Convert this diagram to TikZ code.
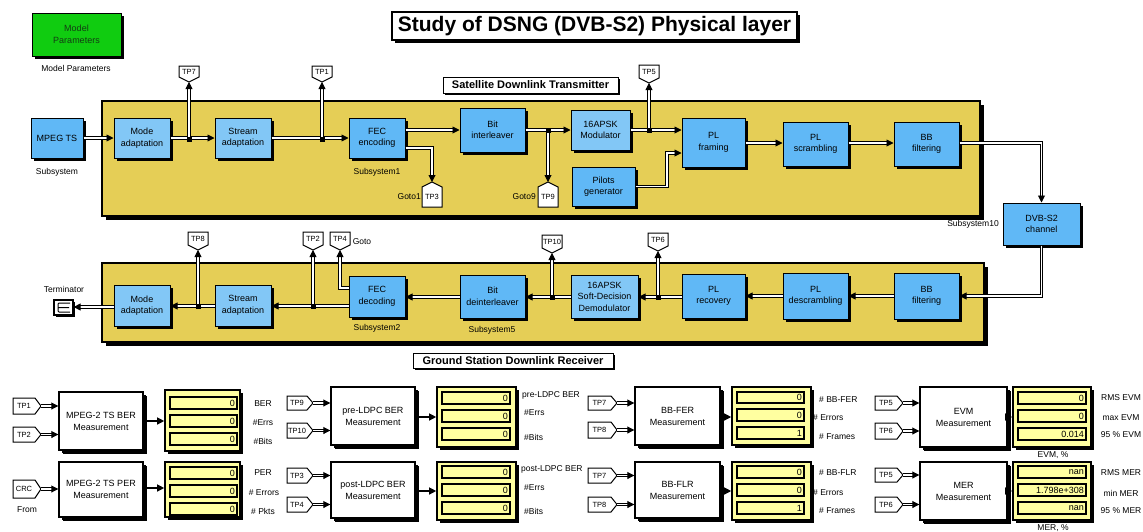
\documentclass[tikz,border=0pt]{standalone}
\usepackage{fontspec}
\setmainfont{Liberation Sans}
\usetikzlibrary{arrows.meta,shadows}
\definecolor{yel}{RGB}{229,206,86}
\definecolor{blu}{RGB}{96,184,246}
\definecolor{lblu}{RGB}{130,199,246}
\definecolor{grn}{RGB}{16,204,16}
\definecolor{dyel}{RGB}{255,255,160}
\definecolor{dgrn}{RGB}{20,60,20}
\newcommand\fs[2]{\fontsize{#1}{#2}\selectfont}
\newcommand\blk[7][bb]{\node[#1, minimum width={(#5-(#3))*1pt}, minimum height={(#6-(#4))*1pt}] (#2) at ({(#3+#5)/2},{(#4+#6)/2}) {#7};}
% Goto tag, point at bottom (input from below)
\newcommand\tagS[6]{%
 \draw[tagst] (#2,#3) -- (#4,#3) -- (#4,#5-5) -- ({(#2+#4)/2},#5) -- (#2,#5-5) -- cycle;
 \node[tagtx] (#1) at ({(#2+#4)/2},{(#3+#5-5)/2}) {#6};
 \coordinate (#1-in) at ({(#2+#4)/2},#5);}
% Goto tag, point at top (input from above)
\newcommand\tagN[6]{%
 \draw[tagst] (#2,#3+5) -- ({(#2+#4)/2},#3) -- (#4,#3+5) -- (#4,#5) -- (#2,#5) -- cycle;
 \node[tagtx] (#1) at ({(#2+#4)/2},{(#3+5+#5)/2}) {#6};
 \coordinate (#1-in) at ({(#2+#4)/2},#3);}
% From tag, point at right (output)
\newcommand\tagE[6]{%
 \draw[tagst] (#2,#3) -- (#4-6,#3) -- (#4,{(#3+#5)/2}) -- (#4-6,#5) -- (#2,#5) -- cycle;
 \node[tagtx] (#1) at ({(#2+#4-6)/2},{(#3+#5)/2}) {#6};
 \coordinate (#1-out) at (#4,{(#3+#5)/2});}
\newcommand\disp[5]{\node[dsp, minimum width={(#4-(#2))*1pt}, minimum height={(#5-(#3))*1pt}] (#1) at ({(#2+#4)/2},{(#3+#5)/2}) {};}
\newcommand\fld[6]{\node[fldst, minimum width={(#4-(#2))*1pt}, minimum height={(#5-(#3))*1pt}] (#1) at ({(#2+#4)/2},{(#3+#5)/2}) {};
 \node[anchor=east, inner sep=0pt, font=\fs{9}{10}] (#1v) at ([xshift=-2.5pt]#1.east) {#6};}
\tikzset{
 shd/.style={general shadow={fill=black, shadow xshift=#1, shadow yshift=-#1}},
 sub/.style={draw=black, line width=1.5pt, fill=yel, shd=4pt},
 bb/.style={draw=black, line width=1pt, fill=blu, align=center, inner sep=0pt, font=\fs{9}{11.5}, shd=3pt},
 lb/.style={bb, fill=lblu},
 mb/.style={bb, fill=white, line width=1.4pt, font=\fs{9}{12}, shd=4pt},
 dsp/.style={draw=black, line width=1.6pt, fill=dyel, inner sep=0pt, shd=3pt},
 fldst/.style={draw=black, line width=1.3pt, fill=dyel, inner sep=0pt},
 lbl/.style={draw=black, line width=1pt, fill=white, inner sep=0pt, font=\bfseries\fs{11}{13}, shd=2pt},
 ttl/.style={draw=black, line width=1.3pt, fill=white, inner sep=0pt, font=\bfseries\fs{21}{24}, shd=3pt},
 tagst/.style={draw=black, line width=1pt, fill=white},
 tagtx/.style={inner sep=0pt, font=\fs{7.5}{8}},
 txt/.style={inner sep=0pt, font=\fs{8.5}{10}},
 bus/.style={draw=black, line width=0.9pt, double=white, double distance=1.8pt, -{Triangle[length=7pt,width=7pt]}},
 sig/.style={draw=black, line width=1.2pt, -{Triangle[length=7pt,width=7pt]}},
 jn/.style={fill=black, inner sep=0pt, minimum size=5pt},
}
\begin{document}
\begin{tikzpicture}[x=1pt,y=-1pt]
\useasboundingbox (0,0) rectangle (1143,531);
\fill[white] (0,0) rectangle (1143,531);

% title and model parameters
\blk[ttl]{title}{392}{12}{797}{40}{Study of DSNG (DVB-S2) Physical layer}
\blk[bb, fill=grn, text=dgrn]{mparam}{32}{13}{121}{56}{Model\\Parameters}
\node[txt] (mparamL) at (76,68) {Model Parameters};

% subsystem boxes
\blk[sub]{tx}{102}{101}{980}{216}{}
\blk[sub]{rx}{102}{263}{984}{342}{}
\blk[lbl]{txL}{443}{77}{618}{93}{Satellite Downlink Transmitter}
\blk[lbl]{rxL}{413}{353}{613}{368}{Ground Station Downlink Receiver}

% transmitter blocks
\blk[bb]{mpeg}{31}{118}{83}{158}{MPEG TS}
\blk[lb]{modeT}{114}{118}{170}{158}{Mode\\adaptation}
\blk[lb]{streamT}{215}{118}{271}{158}{Stream\\adaptation}
\blk[bb]{fecT}{349}{118}{405}{158}{FEC\\encoding}
\blk[bb]{bitT}{460}{108}{525}{152}{Bit\\interleaver}
\blk[lb]{modT}{571}{110}{630}{150}{16APSK\\Modulator}
\blk[bb]{pilots}{572}{167}{635}{206}{Pilots\\generator}
\blk[bb]{plf}{682}{118}{745}{167}{PL\\framing}
\blk[bb]{plsc}{783}{122}{848}{166}{PL\\scrambling}
\blk[bb]{bbfT}{894}{122}{959}{166}{BB\\filtering}
\blk[bb]{chan}{1003}{203}{1080}{245}{DVB-S2\\channel}

\node[txt] (mpegL) at (57,172) {Subsystem};
\node[txt] (fecTL) at (377,172) {Subsystem1};
\node[txt] (chanL) at (973,224) {Subsystem10};
\node[txt, anchor=east] (g1L) at (421,197) {Goto1};
\node[txt, anchor=east] (g9L) at (536,197) {Goto9};

% transmitter tags
\tagS{tp7}{179}{66}{199}{82}{TP7}
\tagS{tp1}{312}{66}{332}{82}{TP1}
\tagS{tp5}{639}{65}{659}{83}{TP5}
\tagN{tp3}{422}{182}{442}{207}{TP3}
\tagN{tp9}{538}{182}{558}{207}{TP9}

\coordinate (j1) at (189,139);
\coordinate (j2) at (322,139);
\coordinate (j3) at (548,130);
\coordinate (j4) at (649,130);

\draw[bus] (mpeg.east) -- (modeT.west);
\draw[bus] (modeT.east) -- (streamT.west);
\draw[bus] (j1) -- (tp7-in);
\draw[bus] (streamT.east) -- (fecT.west);
\draw[bus] (j2) -- (tp1-in);
\draw[bus] (fecT.east |- bitT.west) -- (bitT.west);
\draw[bus] (fecT.east |- 0,148) -| (tp3-in);
\draw[bus] (bitT.east) -- (modT.west);
\draw[bus] (j3) -- (tp9-in);
\draw[bus] (modT.east) -- (plf.west |- modT.east);
\draw[bus] (j4) -- (tp5-in);
\draw[bus] (pilots.east) -| (667,153) -- (plf.west |- 0,153);
\draw[bus] (plf.east |- 0,143) -- (plsc.west |- 0,143);
\draw[bus] (plsc.east |- 0,143) -- (bbfT.west |- 0,143);
\draw[bus] (bbfT.east |- 0,143) -| (chan.north);

% receiver blocks
\blk[bb]{bbfR}{894}{273}{959}{319}{BB\\filtering}
\blk[bb]{pldR}{783}{273}{848}{319}{PL\\descrambling}
\blk[bb]{plrR}{682}{274}{745}{318}{PL\\recovery}
\blk[lb]{demR}{571}{275}{638}{318}{16APSK\\Soft-Decision\\Demodulator}
\blk[bb]{bdiR}{460}{275}{525}{318}{Bit\\deinterleaver}
\blk[bb]{fecR}{349}{276}{405}{317}{FEC\\decoding}
\blk[lb]{streamR}{215}{285}{271}{326}{Stream\\adaptation}
\blk[lb]{modeR}{114}{285}{170}{326}{Mode\\adaptation}
\node[draw=black, line width=1.2pt, fill=white, minimum width=19pt, minimum height=15pt, inner sep=0pt, shd=1.5pt] (term) at (63.5,307.5) {};
\draw[line width=1pt, rounded corners=1pt] (70,303) -- (58,303) -- (58,312) -- (70,312) (58,307.5) -- (69,307.5);

\node[txt] (termL) at (64,289) {Terminator};
\node[txt] (fecRL) at (377,328) {Subsystem2};
\node[txt] (bdiRL) at (492,330) {Subsystem5};
\node[txt] (gotoL) at (362,242) {Goto};

\tagS{tp8}{188}{232}{208}{250}{TP8}
\tagS{tp2}{303}{232}{323}{250}{TP2}
\tagS{tp4}{330}{232}{350}{250}{TP4}
\tagS{tp10}{542}{235}{562}{253}{TP10}
\tagS{tp6}{648}{233}{668}{251}{TP6}

\coordinate (j5) at (552,297);
\coordinate (j6) at (658,297);
\coordinate (j7) at (313,306);
\coordinate (j8) at (198,306);

\draw[bus] (chan.south) |- (bbfR.east |- 0,296);
\draw[bus] (bbfR.west |- 0,296) -- (pldR.east |- 0,296);
\draw[bus] (pldR.west |- 0,296) -- (plrR.east |- 0,296);
\draw[bus] (plrR.west |- 0,297) -- (demR.east |- 0,297);
\draw[bus] (j6) -- (tp6-in);
\draw[bus] (demR.west |- 0,297) -- (bdiR.east |- 0,297);
\draw[bus] (j5) -- (tp10-in);
\draw[bus] (bdiR.west |- 0,297) -- (fecR.east |- 0,297);
\draw[bus] (fecR.west |- 0,306) -- (streamR.east |- 0,306);
\draw[bus] (j7) -- (tp2-in);
\draw[bus] (fecR.west |- 0,288) -| (tp4-in);
\draw[bus] (streamR.west |- 0,306) -- (modeR.east |- 0,306);
\draw[bus] (j8) -- (tp8-in);
\draw[bus] (modeR.west |- 0,307) -- (term.east |- 0,307);

\foreach \j in {j1,j2,j3,j4,j5,j6,j7,j8} {\node[jn] (\j s) at (\j) {};}

% ---------- measurement section ----------
% group 1
\tagE{f1}{13}{398}{41}{414}{TP1}
\tagE{f2}{13}{427}{41}{442}{TP2}
\tagE{f3}{13}{480}{41}{498}{CRC}
\node[txt] (fromL) at (27,510) {From};
\blk[mb]{m1}{59}{392}{143}{450}{MPEG-2 TS BER\\Measurement}
\blk[mb]{m2}{59}{462}{143}{517}{MPEG-2 TS PER\\Measurement}
\disp{d1}{165}{390}{240}{451}
\fld{d1a}{170}{397}{237}{409}{0}
\fld{d1b}{170}{415}{237}{427}{0}
\fld{d1c}{170}{433}{237}{445}{0}
\disp{d2}{165}{462}{240}{517}
\fld{d2a}{170}{467}{237}{479}{0}
\fld{d2b}{170}{485}{237}{497}{0}
\fld{d2c}{170}{503}{237}{515}{0}
\node[txt] (l1a) at (263,404) {BER};
\node[txt] (l1b) at (263,423) {\#Errs};
\node[txt] (l1c) at (263,441) {\#Bits};
\node[txt] (l2a) at (263,473) {PER};
\node[txt] (l2b) at (264,493) {\# Errors};
\node[txt] (l2c) at (263,511) {\# Pkts};
\draw[bus] (f1-out) -- (m1.west |- f1-out);
\draw[bus] (f2-out) -- (m1.west |- f2-out);
\draw[bus] (f3-out) -- (m2.west |- f3-out);
\draw[sig] (m1.east) -- (d1.west |- m1.east);
\draw[sig] (m2.east |- 0,488) -- (d2.west |- 0,488);

% group 2
\tagE{f4}{287}{396}{313}{410}{TP9}
\tagE{f5}{287}{423}{313}{438}{TP10}
\tagE{f6}{287}{468}{313}{483}{TP3}
\tagE{f7}{287}{497}{313}{512}{TP4}
\blk[mb]{m3}{331}{387}{415}{445}{pre-LDPC BER\\Measurement}
\blk[mb]{m4}{331}{462}{415}{518}{post-LDPC BER\\Measurement}
\disp{d3}{437}{387}{516}{447}
\fld{d3a}{442}{392}{510}{404}{0}
\fld{d3b}{442}{410}{510}{422}{0}
\fld{d3c}{442}{428}{510}{440}{0}
\disp{d4}{437}{462}{516}{520}
\fld{d4a}{442}{466}{510}{478}{0}
\fld{d4b}{442}{484}{510}{496}{0}
\fld{d4c}{442}{502}{510}{514}{0}
\node[txt, anchor=west] (l3a) at (522,395) {pre-LDPC BER};
\node[txt, anchor=west] (l3b) at (524,413) {\#Errs};
\node[txt, anchor=west] (l3c) at (524,437) {\#Bits};
\node[txt, anchor=west] (l4a) at (521,469) {post-LDPC BER};
\node[txt, anchor=west] (l4b) at (524,488) {\#Errs};
\node[txt, anchor=west] (l4c) at (524,511) {\#Bits};
\draw[bus] (f4-out) -- (m3.west |- f4-out);
\draw[bus] (f5-out) -- (m3.west |- f5-out);
\draw[bus] (f6-out) -- (m4.west |- f6-out);
\draw[bus] (f7-out) -- (m4.west |- f7-out);
\draw[sig] (m3.east |- 0,417) -- (d3.west |- 0,417);
\draw[sig] (m4.east |- 0,491) -- (d4.west |- 0,491);

% group 3
\tagE{f8}{588}{396}{617}{410}{TP7}
\tagE{f9}{588}{422}{617}{438}{TP8}
\tagE{f10}{588}{468}{617}{483}{TP7}
\tagE{f11}{588}{497}{617}{512}{TP8}
\blk[mb]{m5}{635}{387}{720}{445}{BB-FER\\Measurement}
\blk[mb]{m6}{635}{462}{720}{518}{BB-FLR\\Measurement}
\disp{d5}{732}{387}{811}{445}
\fld{d5a}{737}{392}{804}{403}{0}
\fld{d5b}{737}{409}{804}{421}{0}
\fld{d5c}{737}{427}{804}{439}{1}
\disp{d6}{732}{462}{811}{520}
\fld{d6a}{737}{466}{804}{478}{0}
\fld{d6b}{737}{484}{804}{496}{0}
\fld{d6c}{737}{502}{804}{514}{1}
\node[txt, anchor=west] (l5a) at (819,400) {\# BB-FER};
\node[txt, anchor=west] (l5b) at (813,418) {\# Errors};
\node[txt, anchor=west] (l5c) at (819,437) {\# Frames};
\node[txt, anchor=west] (l6a) at (819,473) {\# BB-FLR};
\node[txt, anchor=west] (l6b) at (813,493) {\# Errors};
\node[txt, anchor=west] (l6c) at (819,511) {\# Frames};
\draw[bus] (f8-out) -- (m5.west |- f8-out);
\draw[bus] (f9-out) -- (m5.west |- f9-out);
\draw[bus] (f10-out) -- (m6.west |- f10-out);
\draw[bus] (f11-out) -- (m6.west |- f11-out);
\draw[sig] (m5.east |- 0,417) -- (d5.west |- 0,417);
\draw[sig] (m6.east |- 0,491) -- (d6.west |- 0,491);

% group 4
\tagE{f12}{875}{396}{903}{410}{TP5}
\tagE{f13}{875}{423}{903}{439}{TP6}
\tagE{f14}{875}{468}{903}{482}{TP5}
\tagE{f15}{875}{497}{903}{512}{TP6}
\blk[mb]{m7}{920}{387}{1007}{447}{EVM\\Measurement}
\blk[mb]{m8}{920}{462}{1007}{520}{MER\\Measurement}
\disp{d7}{1013}{387}{1091}{447}
\fld{d7a}{1018}{392}{1086}{404}{0}
\fld{d7b}{1018}{410}{1086}{422}{0}
\fld{d7c}{1018}{428}{1086}{440}{0.014}
\disp{d8}{1013}{462}{1091}{520}
\fld{d8a}{1018}{466}{1086}{478}{nan}
\fld{d8b}{1018}{484}{1086}{496}{1.798e+308}
\fld{d8c}{1018}{502}{1086}{514}{nan}
\node[txt] (l7a) at (1121,398) {RMS EVM};
\node[txt] (l7b) at (1121,418) {max EVM};
\node[txt] (l7c) at (1121,435) {95 \% EVM};
\node[txt] (l8a) at (1121,473) {RMS MER};
\node[txt] (l8b) at (1121,493) {min MER};
\node[txt] (l8c) at (1121,511) {95 \% MER};
\node[txt] (evmL) at (1053,455) {EVM, \%};
\node[txt] (merL) at (1053,528) {MER, \%};
\draw[bus] (f12-out) -- (m7.west |- f12-out);
\draw[bus] (f13-out) -- (m7.west |- f13-out);
\draw[bus] (f14-out) -- (m8.west |- f14-out);
\draw[bus] (f15-out) -- (m8.west |- f15-out);
\draw[sig] (m7.east |- 0,417) -- (d7.west |- 0,417);
\draw[sig] (m8.east |- 0,491) -- (d8.west |- 0,491);
\end{tikzpicture}
\end{document}
